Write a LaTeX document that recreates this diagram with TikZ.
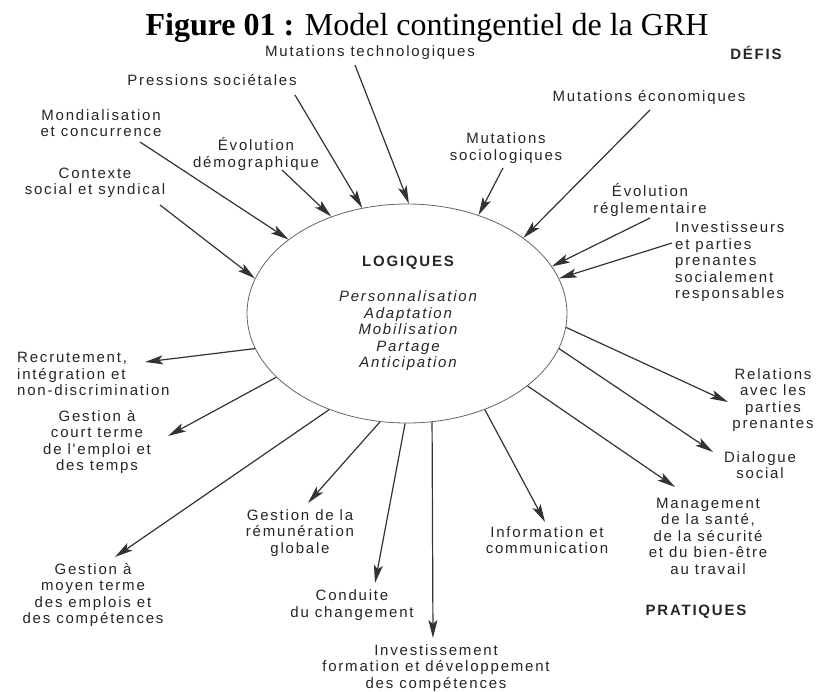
\documentclass[tikz,border=0pt]{standalone}
\usepackage{fontspec}
\setmainfont{Liberation Sans}
\newfontfamily\labfont[LetterSpace=12]{Liberation Sans}
\newfontfamily\capfont{Liberation Serif}
\usetikzlibrary{arrows.meta,shapes.geometric}

\tikzset{
  lbl/.style={inner sep=0pt, align=center, text=black!85,
    font=\labfont\fontsize{15}{16.5}\selectfont},
  lbll/.style={lbl, align=left},
  head/.style={lbl, font=\labfont\bfseries\fontsize{15}{16.5}\selectfont},
  ital/.style={lbl, font=\labfont\itshape\fontsize{15}{16.5}\selectfont},
  conn/.style={draw=black!80, line width=1.2pt,
    -{Stealth[length=18pt,width=9pt,inset=4pt]}},
}

\begin{document}
\begin{tikzpicture}[x=1pt,y=-1pt]
\fill[white] (0,0) rectangle (819,691);
\useasboundingbox (0,0) rectangle (819,691);

% title
\node[anchor=base, inner sep=0pt, font=\capfont\fontsize{32}{38}\selectfont] (title)
  at (427,35) {\textbf{Figure 01 :} Model contingentiel de la GRH};

% central ellipse
\node[ellipse, draw=black!60, line width=0.8pt, minimum width=320pt,
  minimum height=219pt, inner sep=0pt] (E) at (407,313.5) {};
\node[head] (logiques) at (408,263) {LOGIQUES};
\node[ital] (logs) at (408,331)
  {Personnalisation\\Adaptation\\Mobilisation\\Partage\\Anticipation};

% challenges (top)
\node[lbl] (tech) at (370,53) {Mutations technologiques};
\node[lbl] (press) at (212,80) {Pressions sociétales};
\node[lbl] (mond) at (101,123) {Mondialisation\\et concurrence};
\node[lbl] (demo) at (256,154) {Évolution\\démographique};
\node[lbl] (ctx) at (95,183) {Contexte\\social et syndical};
\node[lbl] (soc) at (506,148) {Mutations\\sociologiques};
\node[lbl] (eco) at (649,98) {Mutations économiques};
\node[lbl] (regl) at (650,200) {Évolution\\réglementaire};
\node[lbll, anchor=west] (inv) at (675,262)
  {Investisseurs\\et parties\\prenantes\\socialement\\responsables};
\node[head] (defis) at (756,53) {DÉFIS};

% practices (bottom)
\node[lbll, anchor=west] (recr) at (17,374)
  {Recrutement,\\intégration et\\non-discrimination};
\node[lbl] (court) at (97,442) {Gestion à\\court terme\\de l'emploi et\\des temps};
\node[lbl] (moyen) at (93,595) {Gestion à\\moyen terme\\des emplois et\\des compétences};
\node[lbl] (remu) at (300,533) {Gestion de la\\rémunération\\globale};
\node[lbl] (cond) at (352,605) {Conduite\\du changement};
\node[lbl] (invest) at (436,668)
  {Investissement\\formation et développement\\des compétences};
\node[lbl] (info) at (547,540) {Information et\\communication};
\node[lbl] (mgmt) at (708,536)
  {Management\\de la santé,\\de la sécurité\\et du bien-être\\au travail};
\node[lbl] (dial) at (760,465) {Dialogue\\social};
\node[lbl] (rel) at (773,400) {Relations\\avec les\\parties\\prenantes};
\node[head] (prat) at (696,612) {PRATIQUES};

% arrow ends next to the labels
\coordinate (s-ctx) at (160,205);
\coordinate (s-mond) at (140,142);
\coordinate (s-demo) at (282,170);
\coordinate (s-press) at (295,95);
\coordinate (s-tech) at (355,65);
\coordinate (s-soc) at (503,168);
\coordinate (s-eco) at (650,110);
\coordinate (s-regl) at (650,218);
\coordinate (s-inv) at (672,243);

\coordinate (e-recr) at (145,362);
\coordinate (e-court) at (168,436);
\coordinate (e-moyen) at (115,557);
\coordinate (e-remu) at (308,503);
\coordinate (e-cond) at (375,583);
\coordinate (e-invest) at (433,638);
\coordinate (e-info) at (545,522);
\coordinate (e-mgmt) at (675,487);
\coordinate (e-dial) at (713,452);
\coordinate (e-rel) at (728,402);

% challenges acting on the logics
\draw[conn] (s-ctx) -- (E.167);
\draw[conn] (s-mond) -- (E.148);
\draw[conn] (s-demo) -- (E.128);
\draw[conn] (s-press) -- (E.113);
\draw[conn] (s-tech) -- (E.89);
\draw[conn] (s-soc) -- (E.54);
\draw[conn] (s-eco) -- (E.33);
\draw[conn] (s-regl) -- (E.18);
\draw[conn] (s-inv) -- (E.13);

% logics driving the practices
\draw[conn] (E.193) -- (e-recr);
\draw[conn] (E.206) -- (e-court);
\draw[conn] (E.231) -- (e-moyen);
\draw[conn] (E.256) -- (e-remu);
\draw[conn] (E.269) -- (e-cond);
\draw[conn] (E.283) -- (e-invest);
\draw[conn] (E.309) -- (e-info);
\draw[conn] (E.329) -- (e-mgmt);
\draw[conn] (E.347) -- (e-dial);
\draw[conn] (E.355) -- (e-rel);
\end{tikzpicture}
\end{document}
